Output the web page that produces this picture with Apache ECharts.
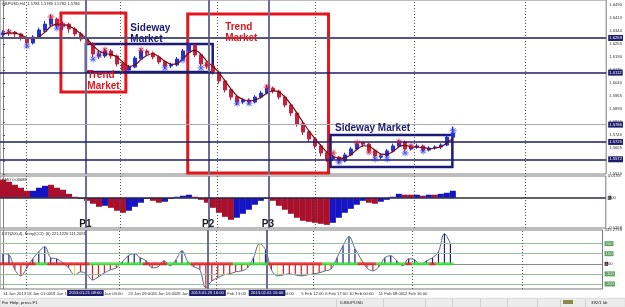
<!DOCTYPE html>
<html><head><meta charset="utf-8">
<script src="https://cdn.jsdelivr.net/npm/echarts@6.0.0/dist/echarts.min.js"></script>
<style>html,body{margin:0;padding:0;background:#fff;overflow:hidden}#chart{width:625px;height:307px}</style>
</head><body><div id="chart"></div>
<script>
// ---------- DATA ----------
const opens  = [1.6318,1.6329,1.6334,1.6323,1.6300,1.6271,1.6305,1.6346,1.6380,1.6409,1.6369,1.6380,1.6352,1.6323,1.6294,1.6265,1.6207,1.6196,1.6225,1.6196,1.6150,1.6115,1.6132,1.6184,1.6225,1.6213,1.6190,1.6161,1.6138,1.6144,1.6178,1.6225,1.6259,1.6202,1.6150,1.6138,1.6103,1.6052,1.6000,1.5959,1.5930,1.5942,1.5930,1.5959,1.5982,1.6011,1.5994,1.5959,1.5913,1.5867,1.5803,1.5757,1.5717,1.5677,1.5636,1.5602,1.5613,1.5590,1.5625,1.5659,1.5695,1.5688,1.5648,1.5612,1.5619,1.5648,1.5677,1.5700,1.5659,1.5671,1.5677,1.5653,1.5665,1.5671,1.5682,1.5728];
const closes = [1.6329,1.6334,1.6323,1.6300,1.6271,1.6305,1.6346,1.6380,1.6409,1.6369,1.6380,1.6352,1.6323,1.6294,1.6265,1.6207,1.6196,1.6225,1.6196,1.6150,1.6115,1.6132,1.6184,1.6225,1.6213,1.6190,1.6161,1.6138,1.6144,1.6178,1.6225,1.6259,1.6202,1.6150,1.6138,1.6103,1.6052,1.6000,1.5959,1.5930,1.5942,1.5930,1.5959,1.5982,1.6011,1.5994,1.5959,1.5913,1.5867,1.5803,1.5757,1.5717,1.5677,1.5636,1.5602,1.5613,1.5590,1.5625,1.5659,1.5688,1.5688,1.5648,1.5619,1.5619,1.5648,1.5677,1.5700,1.5659,1.5671,1.5677,1.5653,1.5665,1.5671,1.5682,1.5728,1.5751];
const lows   = [1.6300,1.6312,1.6298,1.6285,1.6258,1.6262,1.6296,1.6335,1.6366,1.6355,1.6345,1.6330,1.6310,1.6280,1.6248,1.6190,1.6178,1.6185,1.6180,1.6135,1.6098,1.6100,1.6125,1.6175,1.6198,1.6176,1.6148,1.6122,1.6125,1.6136,1.6170,1.6215,1.6190,1.6135,1.6120,1.6088,1.6036,1.5985,1.5942,1.5912,1.5918,1.5915,1.5922,1.5950,1.5975,1.5980,1.5945,1.5898,1.5850,1.5788,1.5740,1.5700,1.5660,1.5618,1.5585,1.5590,1.5575,1.5582,1.5618,1.5650,1.5670,1.5635,1.5600,1.5598,1.5610,1.5640,1.5668,1.5645,1.5650,1.5660,1.5640,1.5645,1.5655,1.5660,1.5675,1.5720];
const highs  = [1.6345,1.6352,1.6340,1.6330,1.6310,1.6316,1.6360,1.6398,1.6436,1.6418,1.6395,1.6388,1.6362,1.6335,1.6302,1.6276,1.6225,1.6240,1.6236,1.6205,1.6160,1.6145,1.6196,1.6240,1.6236,1.6222,1.6200,1.6172,1.6158,1.6190,1.6236,1.6274,1.6265,1.6212,1.6165,1.6148,1.6112,1.6062,1.6010,1.5968,1.5955,1.5952,1.5970,1.5995,1.6030,1.6020,1.6002,1.5968,1.5922,1.5876,1.5815,1.5768,1.5728,1.5688,1.5645,1.5628,1.5620,1.5638,1.5672,1.5700,1.5702,1.5695,1.5655,1.5632,1.5660,1.5690,1.5712,1.5708,1.5684,1.5690,1.5685,1.5676,1.5680,1.5692,1.5745,1.5790];
const maLine = [1.6325,1.6328,1.6328,1.6318,1.6300,1.6294,1.6307,1.6334,1.6367,1.6380,1.6378,1.6369,1.6349,1.6323,1.6294,1.6256,1.6225,1.6210,1.6205,1.6190,1.6160,1.6135,1.6145,1.6175,1.6200,1.6209,1.6190,1.6165,1.6148,1.6152,1.6180,1.6215,1.6228,1.6205,1.6165,1.6135,1.6098,1.6052,1.6005,1.5965,1.5945,1.5937,1.5942,1.5958,1.5982,1.5995,1.5988,1.5958,1.5915,1.5865,1.5812,1.5762,1.5718,1.5678,1.5640,1.5618,1.5605,1.5608,1.5628,1.5658,1.5678,1.5675,1.5652,1.5630,1.5628,1.5645,1.5672,1.5680,1.5672,1.5670,1.5668,1.5662,1.5665,1.5673,1.5695,1.5725];
const upStars   = [[4,1.6253],[9,1.6357],[15,1.6178],[16,1.6201],[27,1.6127],[30,1.6173],[33,1.6127],[39,1.5924],[41,1.5924],[56,1.5584],[62,1.5601],[64,1.5601],[67,1.5636],[70,1.5648],[75,1.5765]];
const downStars = [[1,1.6334],[8,1.6421],[10,1.6375],[17,1.6230],[23,1.6230],[34,1.6144],[44,1.6017],[55,1.5636],[59,1.5694],[61,1.5642],[66,1.5700],[68,1.5677]];
const priceTicks = [1.6490,1.6415,1.6340,1.6265,1.6190,1.6115,1.6040,1.5965,1.5890,1.5815,1.5740,1.5665,1.5590,1.5515];
const priceRange = [1.5515, 1.6519];
const levelPrices = [1.6259, 1.6112, 1.5786, 1.5725, 1.5572];
const levelLabels = ['1.6259','1.6112','1.5786','1.5725','1.5572'];

const oscValues = [0.0160,0.0142,0.0115,0.0089,0.0062,0.0062,0.0089,0.0106,0.0115,0.0089,0.0071,0.0035,0.0009,-0.0009,-0.0027,-0.0053,-0.0080,-0.0071,-0.0089,-0.0115,-0.0133,-0.0115,-0.0080,-0.0044,-0.0009,-0.0027,-0.0044,-0.0035,-0.0009,0.0009,0.0018,0.0027,0.0009,-0.0018,-0.0044,-0.0089,-0.0133,-0.0169,-0.0195,-0.0177,-0.0142,-0.0106,-0.0062,-0.0027,-0.0009,-0.0027,-0.0071,-0.0106,-0.0142,-0.0177,-0.0204,-0.0213,-0.0222,-0.0231,-0.0240,-0.0222,-0.0177,-0.0133,-0.0098,-0.0062,-0.0027,-0.0044,-0.0053,-0.0035,-0.0018,0.0009,0.0035,0.0027,0.0027,0.0027,0.0018,0.0027,0.0027,0.0035,0.0044,0.0062];
const oscSide = ('RRRRR'+'BBB'+'RRRRRRRRR'+'B'+'RRR'+'BBBB'+'RR'+'BBBBB'+'RRRRRRR'+'BBBBBB'+'RRRRRRRRRR'+'BBBBBB'+'RR'+'BBBB'+'RR'+'B'+'R'+'B'+'R'+'BBB').split('');
const oscRange = [-0.0268, 0.0193];

const cciValues = [100,90,-60,-120,-40,50,120,170,60,50,10,-40,-110,-80,-100,-160,-130,-90,-60,-40,20,80,100,60,30,-40,-30,30,-20,40,130,20,-30,-60,-240,-170,-140,-110,-100,-80,-70,-40,60,200,140,-60,-120,-110,-100,-110,-120,-110,-100,-90,-70,-50,60,180,270,150,50,-40,-70,-30,60,80,30,-20,50,40,-10,30,60,120,300,200];
const cciYellow = [12, 26, 43, 46, 60];
const zeroState = ('rrrrrrgg'+'rrrrrrr'+'ggggggggg'+'rrrr'+'gggg'+'rrrrrrr'+'gggggg'+'rrrrrrrrr'+'gggggg'+'rrr'+'ggggg'+'r'+'ggg'+'r'+'ggg').split('');
const cciRange = [-250, 335.2759];
const cciLevels = [200, 100, 0, -100, -200];

const SLOTS = 101;
const xTickIdx  = [0,4,8,16,21,25,29,37,45,50,54,58,63,67,71];
const xTickText = ['14 Jan 2013','18 Jan 01:00','19 Jan 13:00','22 Jan 04:00','23 Jan 09:00','26 Jan 16:00','28 Jan 00:00','1 Feb 13:00','5 Feb 04:00','5 Feb 12:00','6 Feb 17:00','10 Feb 00:00','11 Feb 08:00','12 Feb 16:00','16 Feb 01:00'];
const solidLines = [13.81, 34.28, 44.26];
const solidLineLabels = ['2013.01.21 08:00','2013.01.29 16:00','2013.02.01 16:00'];
const pLabels = ['P1','P2','P3'];
const pLabelLevel = -0.0237;
const dottedLines = [3.83, 19.47, 35.77, 52.08, 68.55, 87.02];
const trendBoxes   = [[9.65,1.6444,20.47,1.5988],[30.78,1.6438,54.24,1.5521]];
const sidewayBoxes = [[13.81,1.6265,34.94,1.6104],[54.57,1.5740,74.87,1.5555]];
const notes = [
  {text:'Sideway\nMarket', x:21.3, y:1.6383, color:'#1b1b72'},
  {text:'Trend\nMarket',   x:14.14, y:1.6112, color:'#e3161c'},
  {text:'Trend\nMarket',   x:37.1, y:1.6392, color:'#e3161c'},
  {text:'Sideway Market',  x:55.4, y:1.5806, color:'#1b1b72'}
];

// ---------- CHART ----------
const FONT = 'Liberation Sans, Arial, sans-serif';
const chart = echarts.init(document.getElementById('chart'), null, {renderer:'canvas'});
const catData = Array.from({length: SLOTS}, (_, i) => String(i));
const star = 'path://M-1.2,-10L1.2,-10L1.2,10L-1.2,10Z M-10,-1.2L10,-1.2L10,1.2L-10,1.2Z M-7.9,-6.2L-6.2,-7.9L7.9,6.2L6.2,7.9Z M6.2,-7.9L7.9,-6.2L-6.2,7.9L-7.9,6.2Z';
const tiny = {fontSize:4.2, color:'#333', fontFamily:FONT};

const grids = [
  {top:0, height:174}, {top:176, height:52}, {top:230, height:59}
].map(g => Object.assign({left:0, right:18, show:true, borderColor:'#7a7a7a', borderWidth:1, backgroundColor:'#fff'}, g));

const xAxes = [0,1,2].map(g => ({
  type:'category', gridIndex:g, data:catData, boundaryGap:true,
  axisLine:{show:false}, axisTick:{show:false}, splitLine:{show:false},
  axisLabel:Object.assign({show:g===2, interval:(idx)=>xTickIdx.includes(idx),
    formatter:(v, idx)=>xTickText[xTickIdx.indexOf(idx)] || '', align:'left', margin:3}, tiny)
})).concat([0,1,2].map(g => ({type:'value', gridIndex:g, min:-0.5, max:SLOTS-0.5, show:false})));

const yBase = {type:'value', position:'right', splitLine:{show:false},
  axisLine:{show:true, lineStyle:{color:'#808080'}}};
const yAxes = [
  Object.assign({}, yBase, {gridIndex:0, min:priceRange[0], max:priceRange[1],
    axisTick:{show:true, length:2, customValues:priceTicks, lineStyle:{color:'#555'}},
    axisLabel:Object.assign({customValues:priceTicks, formatter:v=>v.toFixed(4), margin:3}, tiny)}),
  Object.assign({}, yBase, {gridIndex:1, min:oscRange[0], max:oscRange[1],
    axisTick:{show:false},
    axisLabel:Object.assign({customValues:[oscRange[1],0,oscRange[0]], margin:2,
      formatter:v=> v===0 ? '{z|0.}00' : v.toFixed(4),
      rich:{z:{backgroundColor:'#333', color:'#bbb', fontSize:4.2}}}, tiny)}),
  Object.assign({}, yBase, {gridIndex:2, min:cciRange[0], max:cciRange[1],
    axisTick:{show:false},
    axisLabel:Object.assign({customValues:[cciRange[1],200,100,0,-100,-200], margin:2,
      formatter:v=> v===cciRange[1] ? v.toFixed(4) : v===0 ? '{z|0.}00' : '{g|'+v+'}',
      rich:{z:{backgroundColor:'#333', color:'#bbb', fontSize:4.2},
            g:{backgroundColor:'#5f9f62', color:'#dff5df', fontSize:4.2, padding:[0.5,1]}}}, tiny)})
];

const noSym = ['none','none'];
const vLines = (withLabels) => solidLines.map((v,k)=>({xAxis:v, name:solidLineLabels[k],
    lineStyle:{color:'#6c6c94', width:2, type:'solid'},
    label:{show:withLabels, position:'start', distance:1, formatter:'{b}', fontSize:4.2, fontFamily:FONT,
      color:'#fff', backgroundColor:'#1c1c6c', padding:[1,2]}}))
  .concat(dottedLines.map(v=>({xAxis:v, lineStyle:{color:'#555', width:1, type:[1,2]}, label:{show:false}})));

const series = [
  // hatch between price and MA
  {type:'custom', xAxisIndex:0, yAxisIndex:0, z:2, silent:true,
   data: closes.map((c,i)=>[i, c, maLine[i]]),
   renderItem:(params, api)=>{
     const i = api.value(0), c = api.value(1), m = api.value(2);
     const p1 = api.coord([i, c]), p2 = api.coord([i, m]);
     const col = c < m ? '#e0707f' : '#6a78e6';
     return {type:'group', children:[-1.5, 1.5].map(dx=>({type:'line',
       shape:{x1:p1[0]+dx, y1:p1[1], x2:p2[0]+dx, y2:p2[1]}, style:{stroke:col, lineWidth:1}}))};
   }},
  {type:'candlestick', xAxisIndex:0, yAxisIndex:0, z:3, barWidth:3,
   data: opens.map((o,i)=>[o, closes[i], lows[i], highs[i]]),
   itemStyle:{color:'#2232d6', color0:'#c8203f', borderColor:'#2232d6', borderColor0:'#c8203f', borderWidth:1}},
  {type:'line', xAxisIndex:0, yAxisIndex:0, z:4, data:maLine, symbol:'none', smooth:0.3,
   lineStyle:{color:'#7a0a0a', width:1.2}},
  {type:'scatter', xAxisIndex:0, yAxisIndex:0, z:5, data:upStars, symbol:star, symbolSize:7, itemStyle:{color:'#2a3ae0'}},
  {type:'scatter', xAxisIndex:0, yAxisIndex:0, z:5, data:downStars, symbol:star, symbolSize:7, itemStyle:{color:'#c81c3c'}},
  // vertical lines main
  {type:'line', xAxisIndex:3, yAxisIndex:0, z:1, data:[], silent:true,
   markLine:{symbol:noSym, silent:true, animation:false, data:vLines(false)}},
  // horizontal levels
  {type:'line', xAxisIndex:3, yAxisIndex:0, z:6, data:[], silent:true,
   markLine:{symbol:noSym, silent:true, animation:false,
     data: levelPrices.map((v,k)=>({yAxis:v, name:levelLabels[k],
       lineStyle:{type:'solid', color: k===0 ? '#55557e' : k===2 ? '#a9a9b6' : '#1e1e68', width: k===0 ? 2 : k===2 ? 1 : 1.5},
       label:{show:true, position:'end', distance:2, formatter:'{b}', fontSize:4.2, fontFamily:FONT,
         color:'#fff', backgroundColor:'#1c1c6c', padding:[1,1]}}))}},
  // boxes and notes
  {type:'line', xAxisIndex:3, yAxisIndex:0, z:10, data:[], silent:true,
   markArea:{silent:true, animation:false, label:{show:false},
     data: trendBoxes.map(b=>[{xAxis:b[0], yAxis:b[1], itemStyle:{color:'rgba(0,0,0,0)', borderColor:'#e3161c', borderWidth:3}},{xAxis:b[2], yAxis:b[3]}])
       .concat(sidewayBoxes.map(b=>[{xAxis:b[0], yAxis:b[1], itemStyle:{color:'rgba(0,0,0,0)', borderColor:'#1b1b78', borderWidth:2.5}},{xAxis:b[2], yAxis:b[3]}]))},
   markPoint:{silent:true, animation:false, symbol:'rect', symbolSize:1, itemStyle:{color:'rgba(0,0,0,0)'},
     data: notes.map(n=>({name:n.text, coord:[n.x, n.y],
       label:{show:true, formatter:'{b}', position:[0,0], align:'left', verticalAlign:'top', color:n.color,
         fontSize:10, fontWeight:'bold', lineHeight:11, fontFamily:FONT}}))}},
  // indicator 1
  {type:'line', xAxisIndex:4, yAxisIndex:1, z:6, data:[], silent:true,
   markLine:{symbol:noSym, silent:true, animation:false,
     data: vLines(false).concat([{yAxis:0, lineStyle:{color:'#2a2a4a', width:1.5, type:'solid'}, label:{show:false}}])},
   markPoint:{silent:true, animation:false, symbol:'rect', symbolSize:1, itemStyle:{color:'rgba(0,0,0,0)'},
     data: pLabels.map((t,k)=>({name:t, coord:[solidLines[k], pLabelLevel],
       label:{show:true, formatter:'{b}', position:[0,0], align:'center', verticalAlign:'middle', color:'#1a1a1a',
         fontSize:10, fontWeight:'bold', fontFamily:FONT}}))}},
  {type:'bar', xAxisIndex:1, yAxisIndex:1, z:3, data:oscValues, barCategoryGap:'0%', silent:true,
   itemStyle:{color:(p)=> oscSide[p.dataIndex]==='B' ? '#1414c4' : '#a8102c'}},
  // indicator 2
  {type:'line', xAxisIndex:5, yAxisIndex:2, z:1, data:[], silent:true,
   markLine:{symbol:noSym, silent:true, animation:false,
     data: cciLevels.map(v=>({yAxis:v, lineStyle:{color: v===0 ? '#8a8a8a' : '#9cbc9e', width:1, type:'solid'}, label:{show:false}}))}},
  {type:'bar', xAxisIndex:2, yAxisIndex:2, z:3, data:cciValues, barWidth:1.2, silent:true,
   itemStyle:{color:(p)=> cciYellow.includes(p.dataIndex) ? '#e8e050' : p.value>=0 ? '#1c1c7c' : '#de1a1a'}},
  {type:'line', xAxisIndex:2, yAxisIndex:2, z:4, data:cciValues, symbol:'none', smooth:0.35, silent:true,
   lineStyle:{color:'#53698a', width:1}},
  {type:'scatter', xAxisIndex:2, yAxisIndex:2, z:5, silent:true, symbol:'rect', symbolSize:[6.4,3],
   data: zeroState.map((s,i)=>[i, 0]),
   itemStyle:{color:(p)=> zeroState[p.dataIndex]==='g' ? '#35e035' : '#e51919'}},
  {type:'line', xAxisIndex:5, yAxisIndex:2, z:8, data:[], silent:true,
   markLine:{symbol:noSym, silent:true, animation:false, data:vLines(true)}}
];

const statusSeps = [336, 383, 425, 452, 480, 507, 537, 560, 585];
const graphic = [
  {type:'text', left:2, top:2, style:{text:'GBPUSD,H4  1.5783 1.5789 1.5782 1.5786', fill:'#222', font:'4px '+FONT}},
  {type:'text', left:2, top:178, style:{text:'EMO 0.00688', fill:'#222', font:'4px '+FONT}},
  {type:'text', left:2, top:232, style:{text:'EXT(200,4), Entry(CCI): (6) 221.1226 111.2091', fill:'#222', font:'4px '+FONT}},
  {type:'rect', left:0, top:298, shape:{width:625, height:9}, style:{fill:'#ececec', stroke:'#c4c4c4', lineWidth:0.5}},
  {type:'text', left:2, top:300.5, style:{text:'For Help, press F1', fill:'#111', font:'4.3px '+FONT}},
  {type:'text', left:340, top:300.5, style:{text:'DJBUPUSD', fill:'#222', font:'4.3px '+FONT}},
  {type:'rect', left:563, top:300, shape:{width:10, height:4}, style:{fill:'#8a8a4a'}},
  {type:'text', left:591, top:300.5, style:{text:'392/1 kb', fill:'#222', font:'4.3px '+FONT}}
].concat(statusSeps.map(x=>({type:'rect', left:x, top:299, shape:{width:0.8, height:8}, style:{fill:'#c8c8c8'}})));

chart.setOption({animation:false, backgroundColor:'#fff', grid:grids, xAxis:xAxes, yAxis:yAxes, series:series, graphic:graphic});
</script></body></html>
